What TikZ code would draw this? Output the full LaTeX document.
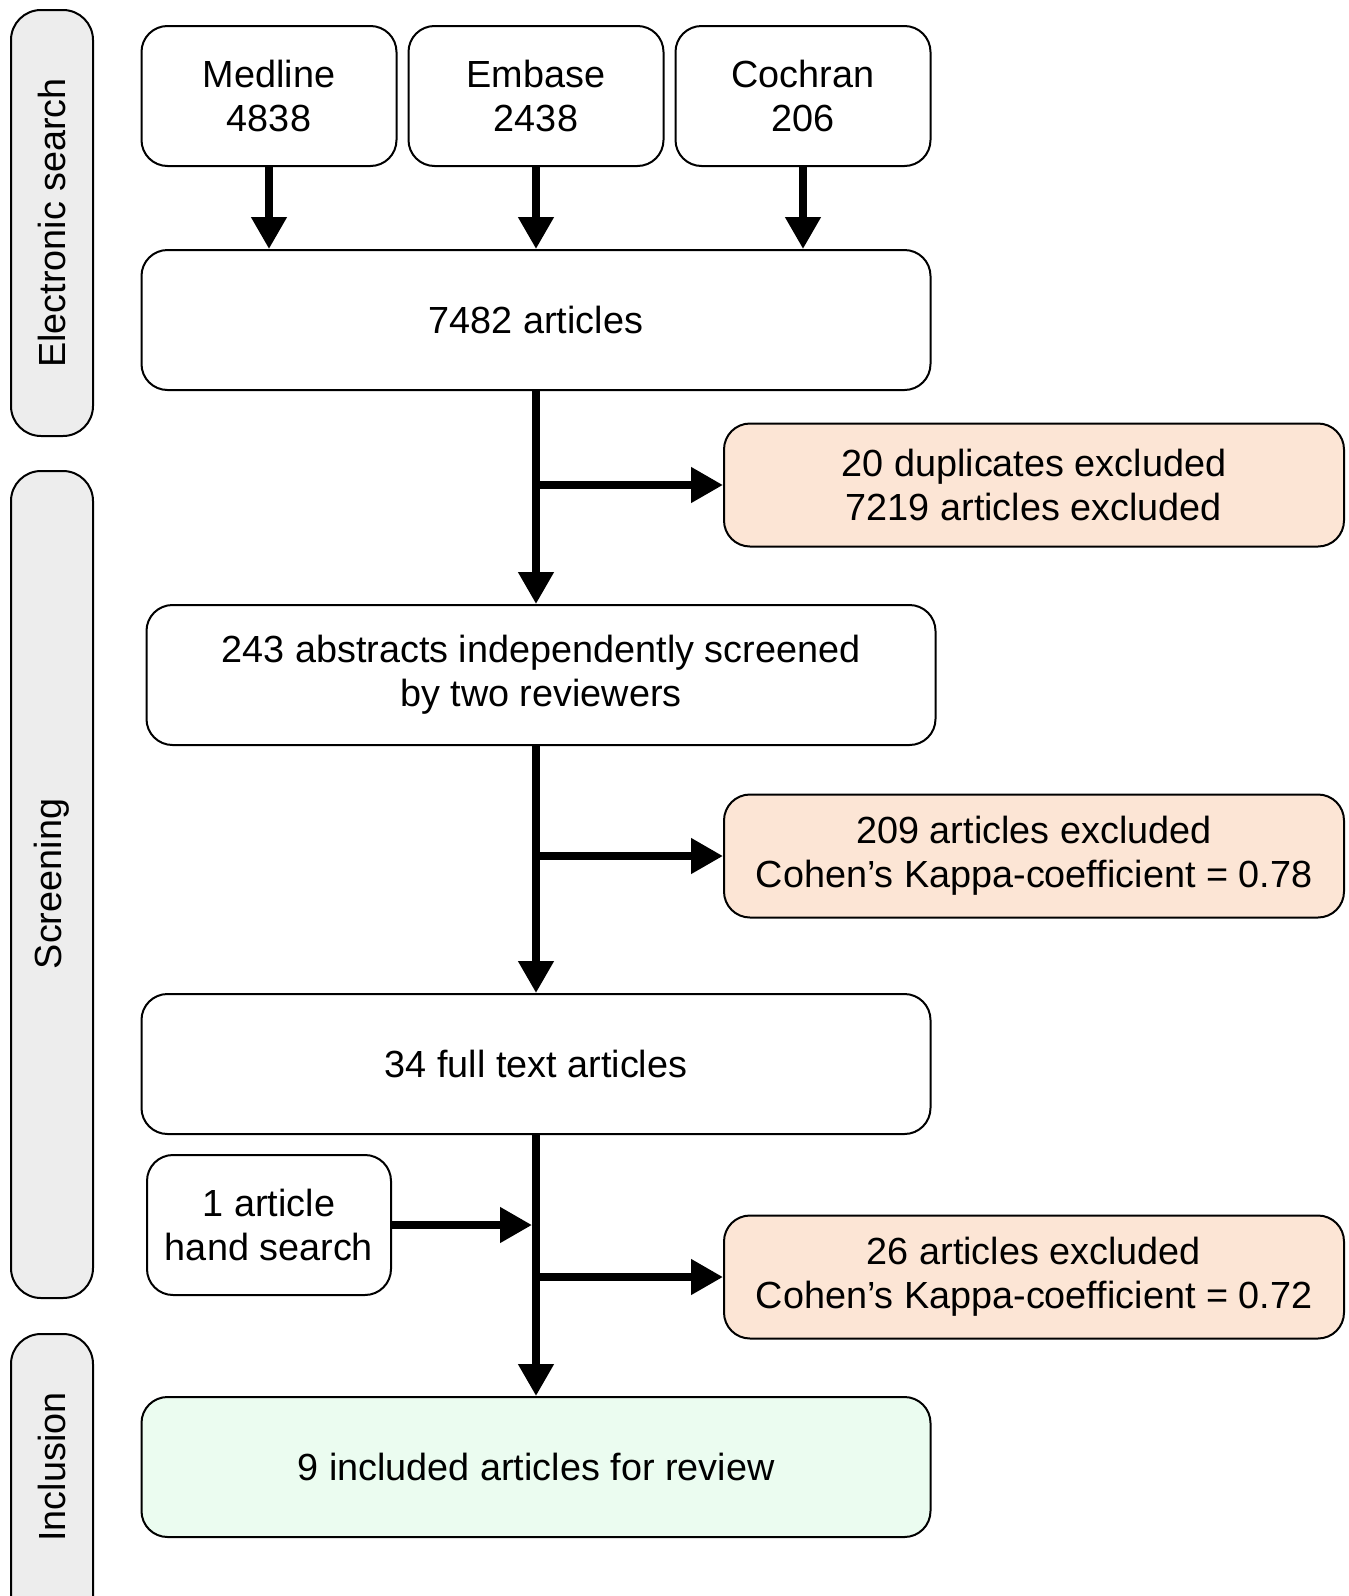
\documentclass[tikz,border=0pt]{standalone}
\usepackage{fontspec}
\setmainfont{Liberation Sans}
\usetikzlibrary{arrows.meta,positioning}
\definecolor{lanegray}{HTML}{EDEDED}
\definecolor{exfill}{HTML}{FCE5D5}
\definecolor{infill}{HTML}{EBFCF0}

\tikzset{
  box/.style={draw, line width=1pt, rounded corners=13pt, align=center,
    font=\fontsize{18.9}{22}\selectfont, inner sep=0pt},
  srcbox/.style={box, minimum width=127.5pt, minimum height=70pt},
  widebox/.style={box, minimum width=394.5pt, minimum height=70pt},
  exbox/.style={box, fill=exfill, minimum width=310pt, minimum height=61.5pt},
  lane/.style={draw, line width=1pt, fill=lanegray, rounded corners=15pt},
  lanetext/.style={rotate=90, font=\fontsize{18.9}{22}\selectfont},
  conn/.style={line width=3.8pt, -{Triangle[length=16pt,width=17pt]}},
}

\begin{document}
\begin{tikzpicture}[x=0.5pt,y=-0.5pt]
\useasboundingbox (0,0) rectangle (1349,1596);

% side lanes
\draw[lane] (11,10) rectangle (93,436);
\draw[lane] (11,471) rectangle (93,1298);
\draw[lane] (11,1334) rectangle (93,1660);
\node[lanetext] (lsearch) at (52,223) {Electronic search};
\node[lanetext] (lscreen) at (52,884) {Screening};
\node[lanetext] (lincl) at (52,1467) {Inclusion};

% databases
\node[srcbox] (medline) at (269,96) {Medline\\4838};
\node[srcbox] (embase) at (536,96) {Embase\\2438};
\node[srcbox] (cochran) at (803,96) {Cochran\\206};

% main flow
\node[widebox] (all) at (536,320) {7482 articles};
\node[widebox] (abs) at (541,675) {243 abstracts independently screened\\by two reviewers};
\node[widebox] (full) at (536,1064) {34 full text articles};
\node[widebox, fill=infill] (incl) at (536,1467) {9 included articles for review};
\node[box, minimum width=122pt, minimum height=70pt] (hand) at (269,1225) {1 article\\hand search};

% exclusions
\node[exbox] (ex1) at (1034,485) {20 duplicates excluded\\7219 articles excluded};
\node[exbox] (ex2) at (1034,856) {209 articles excluded\\Cohen’s Kappa-coefficient = 0.78};
\node[exbox] (ex3) at (1034,1277) {26 articles excluded\\Cohen’s Kappa-coefficient = 0.72};

% connectors
\foreach \s in {medline,embase,cochran}
  \draw[conn] (\s.south) -- (\s.south |- all.north);

\coordinate (j1) at (all.south |- ex1.west);
\coordinate (j2) at (all.south |- ex2.west);
\coordinate (j3) at (all.south |- ex3.west);

\draw[conn] (all.south) -- (all.south |- abs.north);
\draw[conn] (j1) -- (ex1.west);
\draw[conn] (all.south |- abs.south) -- (full.north);
\draw[conn] (j2) -- (ex2.west);
\draw[conn] (full.south) -- (incl.north);
\draw[conn] (j3) -- (ex3.west);
\draw[conn, shorten >=2pt] (hand.east) -- (hand.east -| full.south);
\end{tikzpicture}
\end{document}
